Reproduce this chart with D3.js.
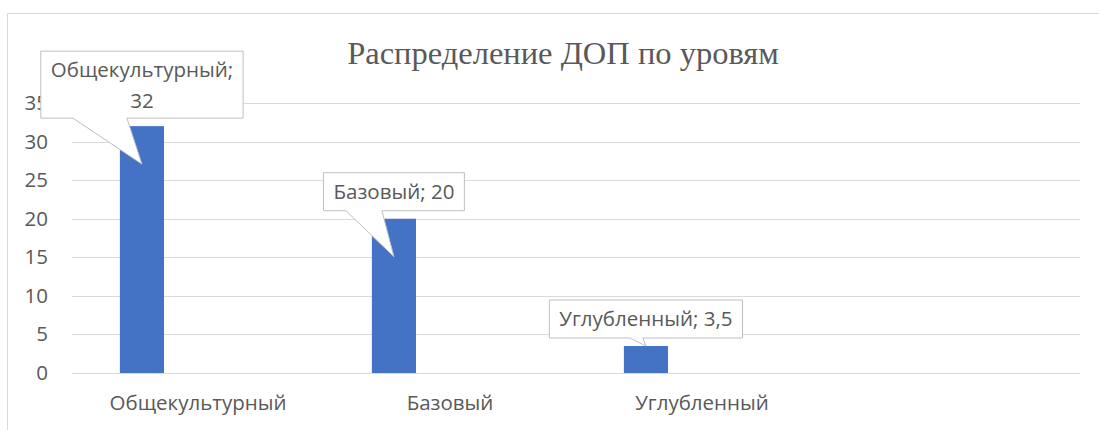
<!DOCTYPE html>
<html>
<head>
<meta charset="utf-8">
<script src="https://cdn.jsdelivr.net/npm/d3@7"></script>
<style>
  body { margin: 0; background: #fff; }
  svg text { font-family: "Open Sans", "Noto Sans", sans-serif; fill: #595959; }
</style>
</head>
<body>
<svg id="chart" width="1099" height="430"></svg>
<script>
// Data
const categories = ["Общекультурный", "Базовый", "Углубленный", ""];
const values = [32, 20, 3.5, null];
const labels = ["Общекультурный;|32", "Базовый; 20", "Углубленный; 3,5"];
const yTicks = [0, 5, 10, 15, 20, 25, 30, 35];
const title = "Распределение ДОП по уровям";

const svg = d3.select("#chart");
const fontSize = 20.5;

// outer frame (cropped on the right and bottom)
svg.append("path")
  .attr("d", "M7.5,430 V13.5 H1099")
  .attr("fill", "none")
  .attr("stroke", "#d9d9d9");

const x = d3.scaleBand()
  .domain(categories)
  .range([72, 1080]);

const y = d3.scaleLinear()
  .domain([0, 35])
  .range([373, 103]);

// title
svg.append("text")
  .attr("x", 563)
  .attr("y", 64)
  .attr("text-anchor", "middle")
  .style("font-family", "'Liberation Serif', 'Times New Roman', serif")
  .style("font-size", "32.5px")
  .text(title);

// gridlines
svg.append("g")
  .selectAll("line")
  .data(yTicks)
  .join("line")
  .attr("x1", 72)
  .attr("x2", 1080)
  .attr("y1", d => Math.round(y(d)) + 0.5)
  .attr("y2", d => Math.round(y(d)) + 0.5)
  .attr("stroke", "#d9d9d9")
  .attr("stroke-width", 1);

// y tick labels
svg.append("g")
  .selectAll("text")
  .data(yTicks)
  .join("text")
  .attr("x", 48)
  .attr("y", d => y(d) + 7)
  .attr("text-anchor", "end")
  .style("font-size", fontSize + "px")
  .text(d => d);

// category labels
svg.append("g")
  .selectAll("text")
  .data(categories)
  .join("text")
  .attr("x", d => x(d) + x.bandwidth() / 2)
  .attr("y", 410)
  .attr("text-anchor", "middle")
  .style("font-size", fontSize + "px")
  .text(d => d);

// bars (offset to the left inside each band)
const barX = c => x(c) + x.bandwidth() * 0.19;
const barW = x.bandwidth() * 0.175;
const rows = categories.map((c, i) => ({ c, v: values[i], label: labels[i] }))
  .filter(d => d.v != null);

svg.append("g")
  .selectAll("rect")
  .data(rows)
  .join("rect")
  .attr("x", d => barX(d.c))
  .attr("y", d => y(d.v))
  .attr("width", barW)
  .attr("height", d => y(0) - y(d.v))
  .attr("fill", "#4472c4");

// data label callouts
const wedges = [[-69, -15], [-48, -12], [-16, -3]];
rows.forEach((d, i) => {
  const cx = barX(d.c) + barW / 2;
  const top = y(d.v);
  const lines = d.label.split("|");
  const g = svg.append("g");
  const shape = g.append("path");
  const texts = lines.map((t, k) => g.append("text")
    .attr("x", cx)
    .attr("text-anchor", "middle")
    .style("font-size", fontSize + "px")
    .text(t));
  const tw = d3.max(texts, t => t.node().getComputedTextLength());
  const w = tw + 20;
  const h = lines.length > 1 ? 67 : 38;
  const bottom = top - 8;
  const boxTop = bottom - h;
  texts.forEach((t, k) => t.attr("y", boxTop + 26 + k * 31));
  const tipY = (y(0) - top) > 60 ? top + 38 : top;
  const l = cx - w / 2, r = cx + w / 2;
  const [b1, b2] = wedges[i];
  shape.attr("d",
      `M${l},${boxTop} H${r} V${bottom} H${cx + b2} L${cx},${tipY} L${cx + b1},${bottom} H${l} Z`)
    .attr("fill", "#fff")
    .attr("stroke", "#bfbfbf")
    .attr("stroke-width", 1);
});
</script>
</body>
</html>
